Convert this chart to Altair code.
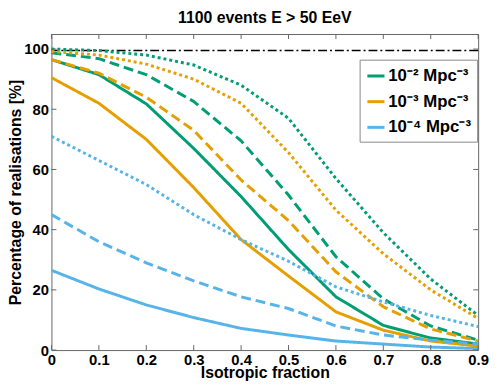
import altair as alt
import pandas as pd

x_vals = [0, 0.1, 0.2, 0.3, 0.4, 0.5, 0.6, 0.7, 0.8, 0.9]

# density 1e-2 (green)
g_solid = [96.5, 91.5, 81.8, 67, 51, 33.4, 17.7, 8.2, 4, 2]
g_dash = [98.8, 96.8, 91.5, 82.6, 69.5, 51.5, 31, 17, 8, 3.3]
g_dot = [100, 99.5, 98, 94.7, 88, 77, 57, 39, 23.6, 11.5]
# density 1e-3 (orange)
o_solid = [90.5, 82, 70, 54, 36.7, 24.6, 12.7, 6.6, 3, 1.3]
o_dash = [96.5, 92, 84, 73, 56.5, 43, 26, 14.4, 7, 3]
o_dot = [99.2, 98, 95, 90, 82, 65.6, 46.5, 32, 20, 10.5]
# density 1e-4 (blue)
b_solid = [26.5, 20.3, 15, 10.8, 7.2, 5, 3, 2, 1, 0.5]
b_dash = [45, 36, 29, 23, 17.7, 13.8, 8, 5, 3.3, 2]
b_dot = [71, 63, 55, 45, 36.7, 29.5, 21, 16, 11.5, 7.8]

densities = ["10⁻² Mpc⁻³", "10⁻³ Mpc⁻³", "10⁻⁴ Mpc⁻³"]
colors = ["#009E73", "#E69F00", "#56B4E9"]
styles = ["solid", "dashed", "dotted"]
ref_level = [99.5]
x_ticks = x_vals
y_ticks = [0, 20, 40, 60, 80, 100]

series = {
    (densities[0], "solid"): g_solid, (densities[0], "dashed"): g_dash, (densities[0], "dotted"): g_dot,
    (densities[1], "solid"): o_solid, (densities[1], "dashed"): o_dash, (densities[1], "dotted"): o_dot,
    (densities[2], "solid"): b_solid, (densities[2], "dashed"): b_dash, (densities[2], "dotted"): b_dot,
}
rows = []
for (d, s), vals in series.items():
    for xv, yv in zip(x_vals, vals):
        rows.append({"x": xv, "y": yv, "density": d, "style": s, "grp": d + s})
df = pd.DataFrame(rows)

W, H = 432, 320
FONT = "Liberation Sans"

xs = alt.Scale(domain=[0, 0.9], nice=False, zero=False)
ys = alt.Scale(domain=[0, 105], nice=False)

lines = alt.Chart(df).mark_line(strokeWidth=3, strokeCap="butt").encode(
    x=alt.X("x:Q", scale=xs, title="Isotropic fraction",
            axis=alt.Axis(values=x_ticks, labelExpr="datum.value == 0 ? '0' : format(datum.value, '.1f')",
                          titleY=28, titleBaseline="alphabetic", titleAnchor="middle")),
    y=alt.Y("y:Q", scale=ys, title="Percentage of realisations [%]",
            axis=alt.Axis(values=y_ticks, titleX=-31, titleY=H / 2, titleAngle=270,
                          titleBaseline="alphabetic", titleAlign="center")),
    color=alt.Color("density:N", scale=alt.Scale(domain=densities, range=colors),
                    legend=alt.Legend(title=None, orient="none", legendX=312, legendY=26,
                                      symbolType="stroke", symbolSize=300, symbolStrokeWidth=3,
                                      labelFontSize=17, labelFont=FONT, labelFontWeight="bold",
                                      labelColor="black", rowPadding=7, padding=6,
                                      strokeColor="#888", fillColor="white", labelOffset=2)),
    strokeDash=alt.StrokeDash("style:N", scale=alt.Scale(domain=styles, range=[[1, 0], [10, 5], [3, 3]]),
                              legend=None),
    detail="grp:N",
)

ref = alt.Chart(pd.DataFrame({"y": ref_level})).mark_rule(
    color="black", strokeWidth=1.5, strokeDash=[9, 3, 2, 3]).encode(y=alt.Y("y:Q", scale=ys))

tx = pd.DataFrame({"x": x_ticks})
ty = pd.DataFrame({"y": y_ticks})
tick_style = dict(color="#666", strokeWidth=1)
tb = alt.Chart(tx).mark_rule(**tick_style).encode(x=alt.X("x:Q", scale=xs), y=alt.value(H), y2=alt.value(H - 5))
tt = alt.Chart(tx).mark_rule(**tick_style).encode(x=alt.X("x:Q", scale=xs), y=alt.value(0), y2=alt.value(5))
tl = alt.Chart(ty).mark_rule(**tick_style).encode(y=alt.Y("y:Q", scale=ys), x=alt.value(0), x2=alt.value(5))
tr = alt.Chart(ty).mark_rule(**tick_style).encode(y=alt.Y("y:Q", scale=ys), x=alt.value(W), x2=alt.value(W - 5))

chart = alt.layer(ref, lines, tb, tt, tl, tr).properties(
    width=W, height=H,
    title=alt.TitleParams("1100 events E > 50 EeV", fontSize=16, font=FONT, fontWeight="bold",
                          color="black", offset=8, anchor="middle"),
    autosize=alt.AutoSizeParams(type="none"),
    padding={"left": 44, "top": 24, "right": 12, "bottom": 30},
).configure_view(stroke="#666", strokeWidth=1).configure_axis(
    grid=False, ticks=False, domain=False,
    labelFont=FONT, labelFontSize=15, labelFontWeight="bold", labelColor="black",
    titleFont=FONT, titleFontSize=16, titleFontWeight="bold", titleColor="black",
    labelPadding=3,
).configure_axisX(labelFlush=False).configure_axisY(labelFlush=False)

chart.save("out.html", embed_options={"renderer": "svg", "actions": False})
